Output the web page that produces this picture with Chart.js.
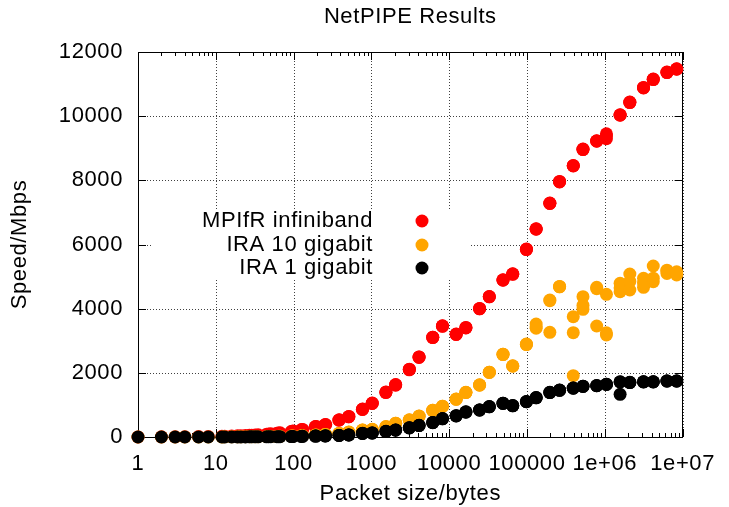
<!DOCTYPE html>
<html><head><meta charset="utf-8">
<script src="https://cdn.jsdelivr.net/npm/chart.js@4/dist/chart.umd.min.js"></script>
<style>html,body{margin:0;padding:0;background:#fff;}canvas{display:block;}</style>
</head><body>
<canvas id="c" width="729" height="507"></canvas>
<script>
const chartTitle = 'NetPIPE Results';
const xAxisTitle = 'Packet size/bytes';
const yAxisTitle = 'Speed/Mbps';
const seriesNames = ['MPIfR infiniband', 'IRA 10 gigabit', 'IRA 1 gigabit'];
const seriesColors = ['#ff0000', '#ffa500', '#000000'];

const packetSizes = [1,2,3,4,6,8,12,13,16,19,21,24,27,29,32,35,45,48,51,61,64,67,93,96,99,125,128,131,189,192,195,253,256,259,381,384,387,509,512,515,765,768,771,1021,1024,1027,1533,1536,1539,2045,2048,2051,3069,3072,3075,4093,4096,4099,6141,6144,6147,8189,8192,8195,12285,12288,12291,16381,16384,16387,24573,24576,24579,32765,32768,32771,49149,49152,49155,65533,65536,65539,98301,98304,98307,131069,131072,131075,196605,196608,196611,262141,262144,262147,393213,393216,393219,524285,524288,524291,786429,786432,786435,1048573,1048576,1048579,1572861,1572864,1572867,2097149,2097152,2097155,3145725,3145728,3145731,4194301,4194304,4194307,6291453,6291456,6291459,8388605,8388608,8388611];

const infiniband = [2,4,6,8,12,16,24,26,32,38,42,48,54,58,64,70,88,94,100,118,124,130,172,178,184,225,230,236,318,324,330,380,385,390,524,530,536,628,634,640,858,864,870,1044,1050,1056,1385,1395,1405,1615,1625,1635,2095,2105,2115,2480,2490,2495,3100,3107,3112,3450,3460,3465,3195,3200,3208,3400,3408,3415,3995,4000,4008,4368,4373,4380,4885,4893,4900,5070,5080,5088,5842,5850,5858,6475,6483,6490,7278,7284,7290,7950,7958,7965,8450,8457,8463,8960,8967,8973,9220,9226,9232,9300,9382,9450,10030,10036,10042,10425,10432,10438,10880,10888,10895,11140,11148,11155,11360,11367,11374,11463,11470,11477];

const tenGigabit = [0.3,0.6,0.9,1.2,1.8,2.4,3.6,4,5,6,6.5,7.5,8.5,9,10,11,14,15,16,19,20,21,29,30,31,39,40,41,58,59,60,78,79,80,110,112,114,148,150,152,212,215,218,232,236,240,315,321,326,420,427,432,525,530,535,645,650,655,825,830,835,950,955,960,1175,1180,1185,1385,1390,1395,1615,1621,1626,2010,2016,2020,2570,2577,2583,2205,2213,2220,2880,2889,2895,3520,3439,3390,4270,3263,4250,4686,4680,4692,3750,3252,1911,4373,4100,3980,4666,3460,4620,4447,3179,3250,4790,4530,4650,5080,4582,4850,4945,4666,4800,5330,4842,4950,5200,5100,5174,5150,5050,5100];

const oneGigabit = [0.15,0.3,0.45,0.6,0.9,1.2,1.8,2,2.4,2.9,3.2,3.6,4.1,4.4,4.9,5.3,6.8,7.3,7.8,9.3,9.7,10,14,14.6,15,19,19.5,20,29,29,30,34,35,36,48,49,50,62,64,66,110,112,114,122,125,128,172,175,178,214,218,222,280,285,290,355,360,365,445,450,455,565,570,575,655,660,665,775,780,785,838,842,845,941,945,948,1046,1050,1053,973,977,980,1098,1101,1104,1222,1226,1229,1386,1390,1393,1456,1460,1463,1521,1525,1528,1576,1580,1583,1597,1600,1603,1638,1642,1645,1720,1330,1716,1697,1700,1703,1717,1720,1722,1717,1720,1722,1742,1745,1747,1742,1745,1747];

const xTickValues = [1,10,100,1000,10000,100000,1000000,10000000];
const xTickLabels = ['1','10','100','1000','10000','100000','1e+06','1e+07'];
const yTickValues = [0,2000,4000,6000,8000,10000,12000];

const FONT = '"Liberation Sans", Arial, Helvetica, sans-serif';
const FS = 22;
const SPACING = '0.6px';
Chart.defaults.font.family = FONT;
Chart.defaults.font.size = FS;
Chart.defaults.color = '#000';

function toPoints(ys) { return packetSizes.map((s, i) => ({x: s, y: ys[i]})); }
const seriesValues = [infiniband, tenGigabit, oneGigabit];

const spacing = {
  id: 'textSpacing',
  beforeInit(chart) { chart.ctx.letterSpacing = SPACING; },
  beforeUpdate(chart) { chart.ctx.letterSpacing = SPACING; },
  beforeDraw(chart) { chart.ctx.letterSpacing = SPACING; }
};

const frame = {
  id: 'gnuFrame',
  beforeDatasetsDraw(chart) {
    const {ctx, chartArea: a, scales} = chart;
    const xs = scales.x, ys = scales.y;
    ctx.save();
    // dotted grid at major ticks
    ctx.strokeStyle = 'rgba(0,0,0,0.75)';
    ctx.lineWidth = 1;
    ctx.setLineDash([1, 2]);
    ctx.beginPath();
    xTickValues.forEach(v => {
      const p = Math.round(xs.getPixelForValue(v)) + 0.5;
      ctx.moveTo(p, a.top); ctx.lineTo(p, a.bottom);
    });
    yTickValues.forEach(v => {
      const p = Math.round(ys.getPixelForValue(v)) + 0.5;
      ctx.moveTo(a.left, p); ctx.lineTo(a.right, p);
    });
    ctx.stroke();
    ctx.setLineDash([]);
    // legend box (opaque, hides grid)
    const bx = a.left + 15, by = a.top + 158, bw = 318, bh = 70;
    ctx.fillStyle = '#fff';
    ctx.fillRect(bx, by, bw, bh);
    // border
    ctx.strokeStyle = '#000';
    ctx.lineWidth = 1;
    ctx.strokeRect(Math.round(a.left) + 0.5, Math.round(a.top) + 0.5, Math.round(a.right - a.left) - 1, Math.round(a.bottom - a.top));
    ctx.beginPath();
    yTickValues.forEach(v => {
      const p = Math.round(ys.getPixelForValue(v)) + 0.5;
      ctx.moveTo(a.left, p); ctx.lineTo(a.left + 8, p);
      ctx.moveTo(a.right, p); ctx.lineTo(a.right - 8, p);
    });
    xTickValues.forEach(d => {
      for (let m = 1; m <= 9; m++) {
        const v = m * d;
        if (v > 1e7) break;
        const p = Math.round(xs.getPixelForValue(v)) + 0.5;
        const len = m === 1 ? 8 : 4;
        ctx.moveTo(p, a.bottom); ctx.lineTo(p, a.bottom - len);
        ctx.moveTo(p, a.top); ctx.lineTo(p, a.top + len);
      }
    });
    ctx.stroke();
    // legend entries
    ctx.letterSpacing = SPACING;
    ctx.font = FS + 'px ' + FONT;
    ctx.textAlign = 'right';
    ctx.textBaseline = 'middle';
    const rows = [a.top + 169, a.top + 193, a.top + 216];
    seriesNames.forEach((n, i) => {
      ctx.fillStyle = '#000';
      ctx.fillText(n, a.left + 235, rows[i]);
      ctx.fillStyle = seriesColors[i];
      ctx.beginPath();
      ctx.arc(a.left + 284, rows[i], 6.5, 0, Math.PI * 2);
      ctx.fill();
    });
    ctx.restore();
  }
};

new Chart(document.getElementById('c'), {
  type: 'scatter',
  data: {
    datasets: seriesNames.map((n, i) => ({
      label: n,
      data: toPoints(seriesValues[i]),
      backgroundColor: seriesColors[i],
      borderColor: seriesColors[i],
      borderWidth: 0,
      pointRadius: 6.5,
      pointHoverRadius: 6.5,
      showLine: false,
      clip: false,
      order: 3 - i
    }))
  },
  options: {
    responsive: false,
    animation: false,
    events: [],
    layout: {padding: {left: 0, right: 38, top: 0, bottom: 0}},
    plugins: {
      legend: {display: false},
      tooltip: {enabled: false},
      title: {display: true, text: chartTitle, fullSize: false, color: '#000',
        font: {size: FS, weight: 'normal'}, padding: {top: 4, bottom: 21.6}}
    },
    scales: {
      x: {
        type: 'logarithmic', position: 'bottom', min: 1, max: 1e7,
        afterBuildTicks: s => { s.ticks = xTickValues.map(v => ({value: v})); },
        afterFit: s => { s.height = 70; },
        ticks: {autoSkip: false, maxRotation: 0, minRotation: 0, padding: 14, color: '#000',
          callback: v => xTickLabels[xTickValues.indexOf(v)]},
        grid: {display: false, drawTicks: false},
        border: {display: false},
        title: {display: true, text: xAxisTitle, color: '#000', padding: {top: 0, bottom: 0}}
      },
      y: {
        position: 'left', min: 0, max: 12000,
        afterBuildTicks: s => { s.ticks = yTickValues.map(v => ({value: v})); },
        afterFit: s => { s.width = 138; },
        ticks: {padding: 15, color: '#000', callback: v => String(v)},
        grid: {display: false, drawTicks: false},
        border: {display: false},
        title: {display: true, text: yAxisTitle, color: '#000', padding: {top: 7, bottom: 0}}
      }
    }
  },
  plugins: [spacing, frame]
});
</script>
</body></html>
